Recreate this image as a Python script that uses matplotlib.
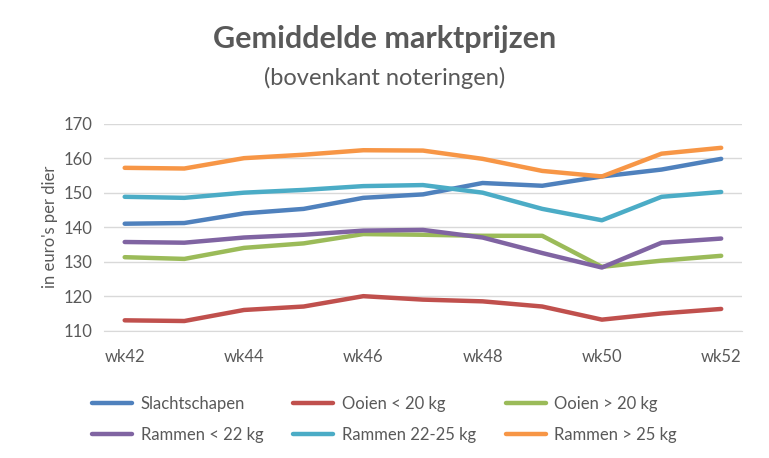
import numpy as np
import matplotlib.pyplot as plt

plt.rcParams['font.family'] = ['Lato', 'DejaVu Sans']

weeks = ['wk42', 'wk43', 'wk44', 'wk45', 'wk46', 'wk47', 'wk48', 'wk49', 'wk50', 'wk51', 'wk52']
slachtschapen = [141, 141.2, 144, 145.3, 148.5, 149.5, 152.8, 152, 154.7, 156.7, 159.8]
ooien_l20 = [113, 112.8, 116, 117, 120, 119, 118.5, 117, 113.2, 115, 116.3]
ooien_g20 = [131.3, 130.8, 134, 135.3, 138, 137.8, 137.5, 137.5, 128.5, 130.3, 131.7]
rammen_l22 = [135.7, 135.5, 137, 137.8, 139, 139.2, 137, 132.5, 128.3, 135.5, 136.7]
rammen_22_25 = [148.8, 148.5, 150, 150.8, 151.9, 152.2, 150, 145.3, 142, 148.8, 150.2]
rammen_g25 = [157.2, 157, 160, 161, 162.3, 162.2, 159.8, 156.3, 154.7, 161.3, 163]

series = [
    ('Slachtschapen', slachtschapen, '#4F81BD'),
    ('Ooien < 20 kg', ooien_l20, '#C0504D'),
    ('Ooien > 20 kg', ooien_g20, '#9BBB59'),
    ('Rammen < 22 kg', rammen_l22, '#8064A2'),
    ('Rammen 22-25 kg', rammen_22_25, '#4BACC6'),
    ('Rammen > 25 kg', rammen_g25, '#F79646'),
]

fig = plt.figure(figsize=(7.69, 4.58), dpi=100)
ax = fig.add_axes([0.135, 0.278, 0.83, 0.452])
x = np.arange(len(weeks))
lines = []
for name, vals, col in series:
    ln, = ax.plot(x, vals, color=col, lw=3.2, label=name, solid_capstyle='round')
    lines.append(ln)

ax.set_ylim(110, 170)
ax.set_yticks(range(110, 171, 10))
ax.set_xlim(-0.35, len(weeks) - 0.65)
ax.set_xticks(x[::2])
ax.set_xticklabels(weeks[::2])
ax.grid(axis='y', color='#D9D9D9', lw=1)
ax.set_axisbelow(True)
for s in ['top', 'right', 'left']:
    ax.spines[s].set_visible(False)
ax.spines['bottom'].set_color('#D9D9D9')
ax.tick_params(axis='y', length=0, labelsize=12, colors='#595959', pad=8)
ax.tick_params(axis='x', length=0, labelsize=12, colors='#595959', pad=13)
ax.set_ylabel("in euro's per dier", fontsize=12, color='#595959', labelpad=4)

fig.text(0.5, 0.915, 'Gemiddelde marktprijzen', ha='center', va='center',
         fontsize=22, fontweight='bold', color='#595959')
fig.text(0.5, 0.83, '(bovenkant noteringen)', ha='center', va='center',
         fontsize=17, color='#595959')

order = [0, 3, 1, 4, 2, 5]
leg = fig.legend([lines[i] for i in order], [series[i][0] for i in order],
                 loc='lower center', bbox_to_anchor=(0.5, 0.0), ncol=3, frameon=False,
                 fontsize=12, handlelength=2.4, handletextpad=0.5,
                 columnspacing=1.8, labelspacing=0.9)
for t in leg.get_texts():
    t.set_color('#595959')

fig.savefig('out.png', dpi=100)
